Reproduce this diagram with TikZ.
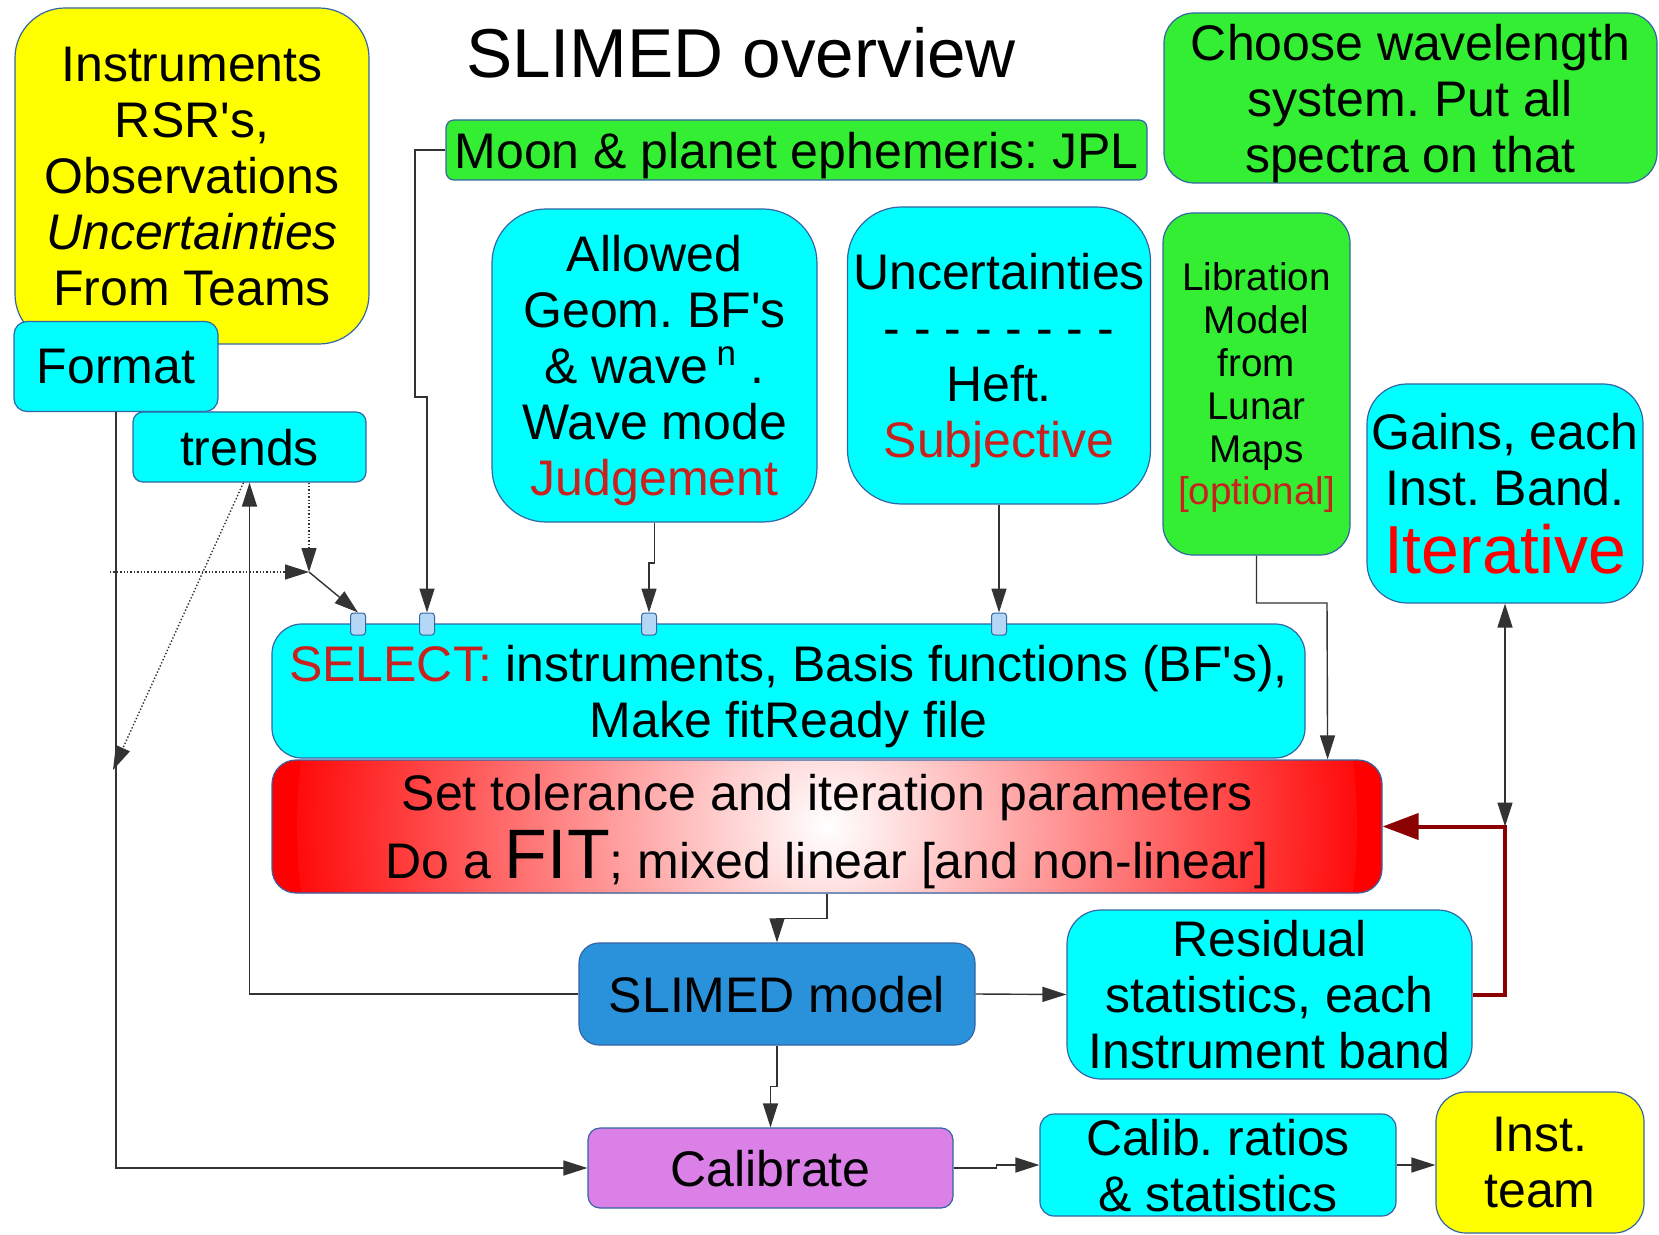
\documentclass[tikz,border=0pt]{standalone}
\usepackage{fontspec}
\setmainfont{Liberation Sans}[Ligatures=TeXOff]
\usepackage{xcolor}
\usetikzlibrary{arrows.meta,calc}
\definecolor{Cyan}{HTML}{00FFFF}
\definecolor{Yel}{HTML}{FFFF00}
\definecolor{Grn}{HTML}{33EE33}
\definecolor{ModelBlue}{HTML}{2A91DB}
\definecolor{Violet}{HTML}{DA80E6}
\definecolor{Edge}{HTML}{3465A4}
\definecolor{TxtRed}{HTML}{C9211E}
\definecolor{DarkRed}{HTML}{8B0000}
\definecolor{Glue}{HTML}{B4D7F5}
\newcommand{\fsn}{\fontsize{25}{28}\selectfont\frenchspacing}

\begin{document}
\begin{tikzpicture}[x=0.5pt,y=-0.5pt,
bx/.style={draw=Edge,line width=0.6pt,align=center,inner sep=1pt,text depth=0pt,font=\fsn},
gl/.style={draw=Edge,fill=Glue,rounded corners=1.5pt,minimum width=7.5pt,minimum height=11pt,inner sep=0pt,line width=0.5pt},
ar/.style={-{Triangle[length=12pt,width=7.5pt]},line width=0.7pt,draw=black!80},
ar2/.style={{Triangle[length=12pt,width=7.5pt]}-{Triangle[length=12pt,width=7.5pt]},line width=0.7pt,draw=black!80},
dt/.style={ar,densely dotted},
redar/.style={-{Triangle[length=18pt,width=13pt]},line width=2pt,draw=DarkRed},
glow/.style={fill=red,path picture={\shade[inner color=white,outer color=red] (path picture bounding box.center) circle (265pt);}}]
\useasboundingbox (0,0) rectangle (1659,1235);
\node[font=\fontsize{34.6}{40}\selectfont] (title) at (741,53) {SLIMED overview};
\node[bx,fill=Yel,rounded corners=25pt,minimum width=177pt,minimum height=168pt] (inst) at (192,176) {Instruments\\RSR's,\\Observations\\\textit{Uncertainties}\\From Teams};
\node[bx,fill=Cyan,rounded corners=6.5pt,minimum width=102pt,minimum height=45pt] (format) at (116,366.5) {Format};
\node[bx,fill=Cyan,rounded corners=5pt,minimum width=116.5pt,minimum height=35pt] (trends) at (249.5,447) {trends};
\node[bx,fill=Grn,rounded corners=4pt,minimum width=350.5pt,minimum height=30pt] (moon) at (796.5,150) {Moon \& planet ephemeris: JPL};
\node[bx,fill=Grn,rounded corners=15pt,minimum width=246.5pt,minimum height=85pt] (wave) at (1410.5,98) {Choose wavelength\\system. Put all\\spectra on that};
\node[bx,fill=Cyan,rounded corners=27pt,minimum width=162.5pt,minimum height=156.5pt] (allowed) at (654.5,365.5) {Allowed\\Geom. BF's\\\& wave\,\textsuperscript{n} .\\Wave mode\\\textcolor{TxtRed}{Judgement}};
\node[bx,fill=Cyan,rounded corners=27pt,minimum width=151.5pt,minimum height=148.5pt] (uncert) at (999,355.5) {Uncertainties\\- - - - - - - -\\Heft.\\\textcolor{TxtRed}{Subjective}};
\node[bx,fill=Grn,rounded corners=15pt,minimum width=93.5pt,minimum height=171pt,font=\fontsize{19.3}{21.4}\selectfont] (libr) at (1256.5,384) {Libration\\Model\\from\\Lunar\\Maps\\\textcolor{TxtRed}{[optional]}};
\node[bx,fill=Cyan,rounded corners=20pt,minimum width=138pt,minimum height=109.5pt] (gains) at (1505,493.5) {Gains, each\\Inst. Band.\\[6pt]{\fontsize{34}{36}\selectfont\color{red}Iterative}};
\node[bx,fill=Cyan,rounded corners=15pt,minimum width=516.5pt,minimum height=67pt] (select) at (788.5,691) {\textcolor{TxtRed}{SELECT:} instruments, Basis functions (BF's),\\Make fitReady file};
\node[gl] (p1) at (358,624) {};
\node[gl] (p2) at (427,624) {};
\node[gl] (p3) at (649,624) {};
\node[gl] (p4) at (999,624) {};
\node[bx,glow,rounded corners=12pt,minimum width=555pt,minimum height=66.5pt] (fit) at (827,826.5) {Set tolerance and iteration parameters\\[4pt]Do a {\fontsize{35}{35}\selectfont FIT}; mixed linear [and non-linear]};
\node[bx,fill=ModelBlue,rounded corners=10pt,minimum width=198pt,minimum height=51pt] (model) at (777,994) {SLIMED model};
\node[bx,fill=Cyan,rounded corners=17pt,minimum width=202.5pt,minimum height=84.5pt] (resid) at (1269.5,994.5) {Residual\\statistics, each\\Instrument band};
\node[bx,fill=Violet,rounded corners=6pt,minimum width=182.5pt,minimum height=40pt] (calib) at (770.5,1168) {Calibrate};
\node[bx,fill=Cyan,rounded corners=7pt,minimum width=178pt,minimum height=51pt] (ratios) at (1218,1165) {Calib. ratios\\\& statistics};
\node[bx,fill=Yel,rounded corners=15pt,minimum width=104pt,minimum height=70.5pt] (team) at (1540,1162.5) {Inst.\\team};
% junctions and loose ends
\coordinate (jn) at (gains.south |- fit.east);
\coordinate (jx) at (309,572);
\coordinate (lx) at (110,572);
\coordinate (dl) at (113,770);
% inputs to SELECT and FIT
\draw[ar] (moon.west) -| (415,397) -| (p2.north);
\draw[ar] (allowed.south) |- (649,563) -- (p3.north);
\draw[ar] (uncert.south) -- (p4.north);
\draw[ar] (libr.south) |- (1327,603) -- ($(fit.north east)+(-55,0)$);
\draw[redar] (resid.east) -| (jn) -- (fit.east);
\draw[ar2] (gains.south) -- (jn);
% outputs
\draw[ar] (fit.south) |- ($(model.north)+(0,-24)$) -- (model.north);
\draw[ar] (model.south) |- ($(calib.north)+(0,-41)$) -- (calib.north);
\draw[ar] (model.east) -- (resid.west);
\draw[ar] (calib.east) -- ++(43,0) |- (ratios.west);
\draw[ar] (ratios.east) -- (ratios.east -| team.west);
\draw[ar] (format.south) |- (calib.west);
\draw[ar] (model.west) -| (trends.south);
% trends
\draw[dt] ($(trends.south)+(-6,0)$) -- (dl);
\draw[dt] (lx) -- (jx);
\draw[dt] (jx |- trends.south) -- (jx);
\draw[ar] (jx) -- (p1.north);
\end{tikzpicture}
\end{document}
